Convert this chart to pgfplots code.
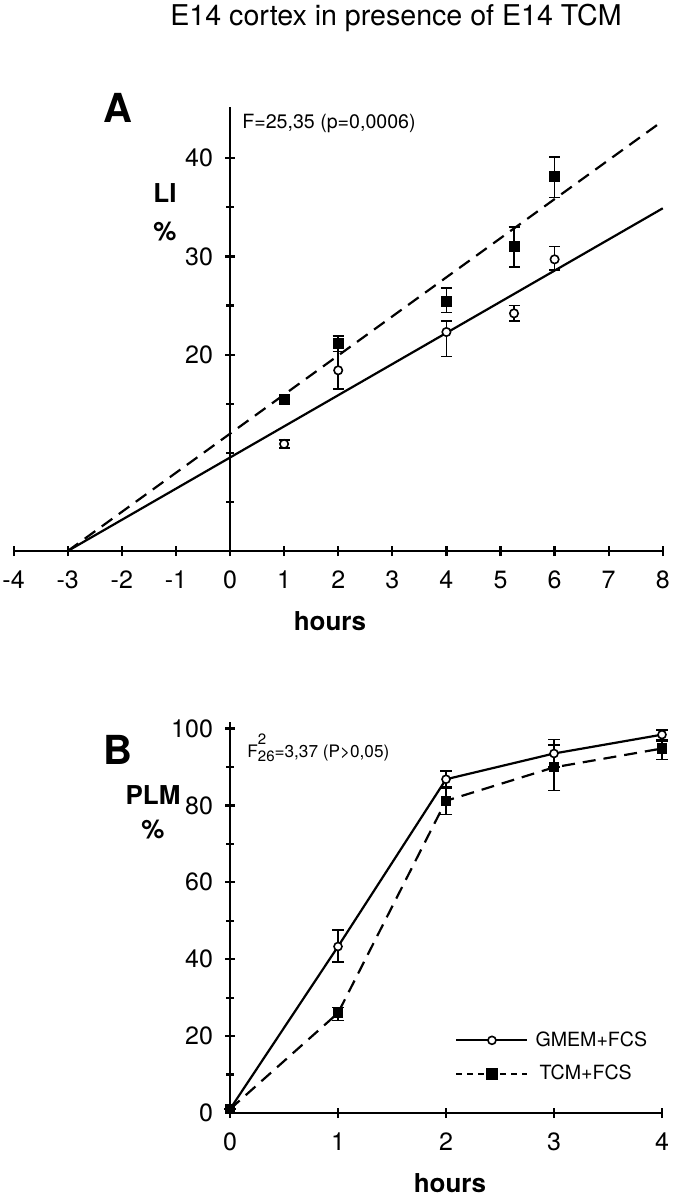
\documentclass[border=0pt]{standalone}
\usepackage{pgfplots}
\pgfplotsset{compat=1.18}
\usepackage{pgfplotstable}
\usepackage{fontspec}
\setmainfont{TeX Gyre Heros}

\pgfplotstableread{
x y ep em
1 15.4 0 0
2 21.1 0.8 0.8
4 25.4 1.4 1.1
5.25 31.0 2.0 2.1
6 38.1 2.0 2.1
}\TCMa
\pgfplotstableread{
x y ep em
1 10.9 0.4 0.4
2 18.4 1.9 1.9
4 22.3 1.1 2.5
5.25 24.2 0.8 0.8
6 29.7 1.3 1.1
}\GMEMa
\pgfplotstableread{
x y ep em
0 1 0 0
1 43.3 4.3 4.0
2 86.8 2.1 2.0
3 93.5 3.6 3.5
4 98.4 1.2 1.2
}\GMEMb
\pgfplotstableread{
x y ep em
0 1 0 0
1 26.0 1.5 2.0
2 81.2 3.3 3.6
3 89.9 5.8 6.0
4 94.8 2.0 2.8
}\TCMb

\pgfplotsset{
  noarrows/.style={
    axis line style={-, line width=1.2pt},
    every inner x axis line/.append style={-},
    every outer x axis line/.append style={-},
    every inner y axis line/.append style={-},
    every outer y axis line/.append style={-},
  },
  every axis/.append style={
    clip=false,
    scale only axis,
    tick style={line width=1.1pt, black},
    major tick length=5pt, minor tick length=4pt,
    tick align=outside,
    tick label style={font=\fontsize{12.5}{14}\selectfont},
    xticklabel style={yshift=-4pt},
    yticklabel style={xshift=-2.5pt},
    /pgf/number format/assume math mode=true,
  }
}

\begin{document}
\begin{tikzpicture}
\path[use as bounding box] (0,0) rectangle (338pt,-599.5pt);
% panel A: y axis at x = 0
\begin{axis}[
  at={(115pt,-275.5pt)}, anchor=origin,
  x=27.05pt, y=4.91pt,
  xmin=0, xmax=8, ymin=0, ymax=45.2,
  axis x line=none, axis y line=left, xtick=\empty,
  noarrows,
  ytick={20,30,40}, minor ytick={5,10,15,25,35},
]
\end{axis}
% panel A: data and x axis
\begin{axis}[
  at={(115pt,-275.5pt)}, anchor=origin,
  x=27.05pt, y=4.91pt,
  xmin=-4, xmax=8, ymin=0, ymax=45.2,
  axis x line=bottom, axis y line=none, ytick=\empty,
  noarrows,
  xtick={-4,...,8},
]
\addplot[black, line width=1.1pt] coordinates {(-3,0) (8,34.9)};
\addplot[black, line width=1.1pt, dash pattern=on 6.5pt off 4pt] coordinates {(-3,0) (8,43.8)};
\addplot[only marks, mark=square*, mark size=2.5pt, black,
  error bars/.cd, y dir=both, y explicit,
  error bar style={line width=0.75pt, solid},
  error mark options={rotate=90, mark size=2.75pt, line width=0.75pt}]
  table[x=x, y=y, y error plus=ep, y error minus=em]{\TCMa};
\addplot[only marks, mark=*, mark size=2.1pt, black, mark options={fill=white, line width=0.8pt},
  error bars/.cd, y dir=both, y explicit,
  error bar style={line width=0.75pt, solid},
  error mark options={rotate=90, mark size=2.75pt, line width=0.75pt}]
  table[x=x, y=y, y error plus=ep, y error minus=em]{\GMEMa};
\end{axis}

% panel B
\begin{axis}[
  at={(115pt,-556.5pt)}, anchor=origin,
  x=54pt, y=1.9225pt,
  xmin=0, xmax=4, ymin=0, ymax=101.6,
  axis x line=bottom, axis y line=left,
  noarrows,
  xtick={0,...,4}, ytick={0,20,...,100}, minor ytick={10,30,...,90},
  legend style={draw=none, fill=none, at={(axis cs:2.083,21.3)}, anchor=north west,
    font=\fontsize{9.8}{11}\selectfont, inner sep=0pt, row sep=8pt,
    nodes={inner sep=0pt},
    /tikz/every odd column/.append style={column sep=3.5pt}},
  legend cell align=left,
  legend image code/.code={\draw[mark repeat=2,mark phase=2] plot coordinates {(0pt,0pt) (17.75pt,0pt) (35.5pt,0pt)};},
]
\addplot[black, line width=1.1pt, mark=*, mark size=2pt, mark options={fill=white, line width=0.8pt, solid},
  error bars/.cd, y dir=both, y explicit,
  error bar style={line width=0.75pt, solid},
  error mark options={rotate=90, mark size=3pt, line width=0.75pt}]
  table[x=x, y=y, y error plus=ep, y error minus=em]{\GMEMb};
\addlegendentry{GMEM+FCS}
\addplot[black, line width=1.1pt, dash pattern=on 6.5pt off 4pt, mark=square*, mark size=2pt, mark options={solid},
  legend image post style={dash pattern=on 3pt off 2.5pt, mark size=2.5pt},
  error bars/.cd, y dir=both, y explicit,
  error bar style={line width=0.75pt, solid},
  error mark options={rotate=90, mark size=3pt, line width=0.75pt}]
  table[x=x, y=y, y error plus=ep, y error minus=em]{\TCMb};
\addlegendentry{\kern2pt TCM+FCS}
\end{axis}

\node[font=\fontsize{14.3}{17}\selectfont] at (198pt,-9pt) {E14 cortex in presence of E14 TCM};
\node[font=\fontsize{20}{24}\selectfont\bfseries] at (59pt,-54pt) {A};
\node[font=\fontsize{13}{15}\selectfont\bfseries] at (82.5pt,-96.5pt) {LI};
\node[font=\fontsize{13}{15}\selectfont\bfseries] at (82.5pt,-116pt) {\%};
\node[font=\fontsize{9.8}{11}\selectfont, anchor=west, inner sep=0pt] at (121pt,-61.5pt) {F=25,35 (p=0,0006)};
\node[font=\fontsize{13}{15}\selectfont\bfseries] at (165pt,-310.5pt) {hours};
\node[font=\fontsize{20}{24}\selectfont\bfseries] at (59pt,-375pt) {B};
\node[font=\fontsize{13}{15}\selectfont\bfseries] at (76.5pt,-397.5pt) {PLM};
\node[font=\fontsize{13}{15}\selectfont\bfseries] at (76.5pt,-415pt) {\%};
\node[font=\fontsize{8.6}{10}\selectfont, anchor=west, inner sep=0pt] at (123.5pt,-374pt)
  {F\raisebox{-0.45ex}{\fontsize{7.5}{7}\selectfont\shortstack[l]{2\\26}}=3,37 (P>0,05)};
\node[font=\fontsize{13}{15}\selectfont\bfseries] at (225pt,-591.5pt) {hours};
\end{tikzpicture}
\end{document}
